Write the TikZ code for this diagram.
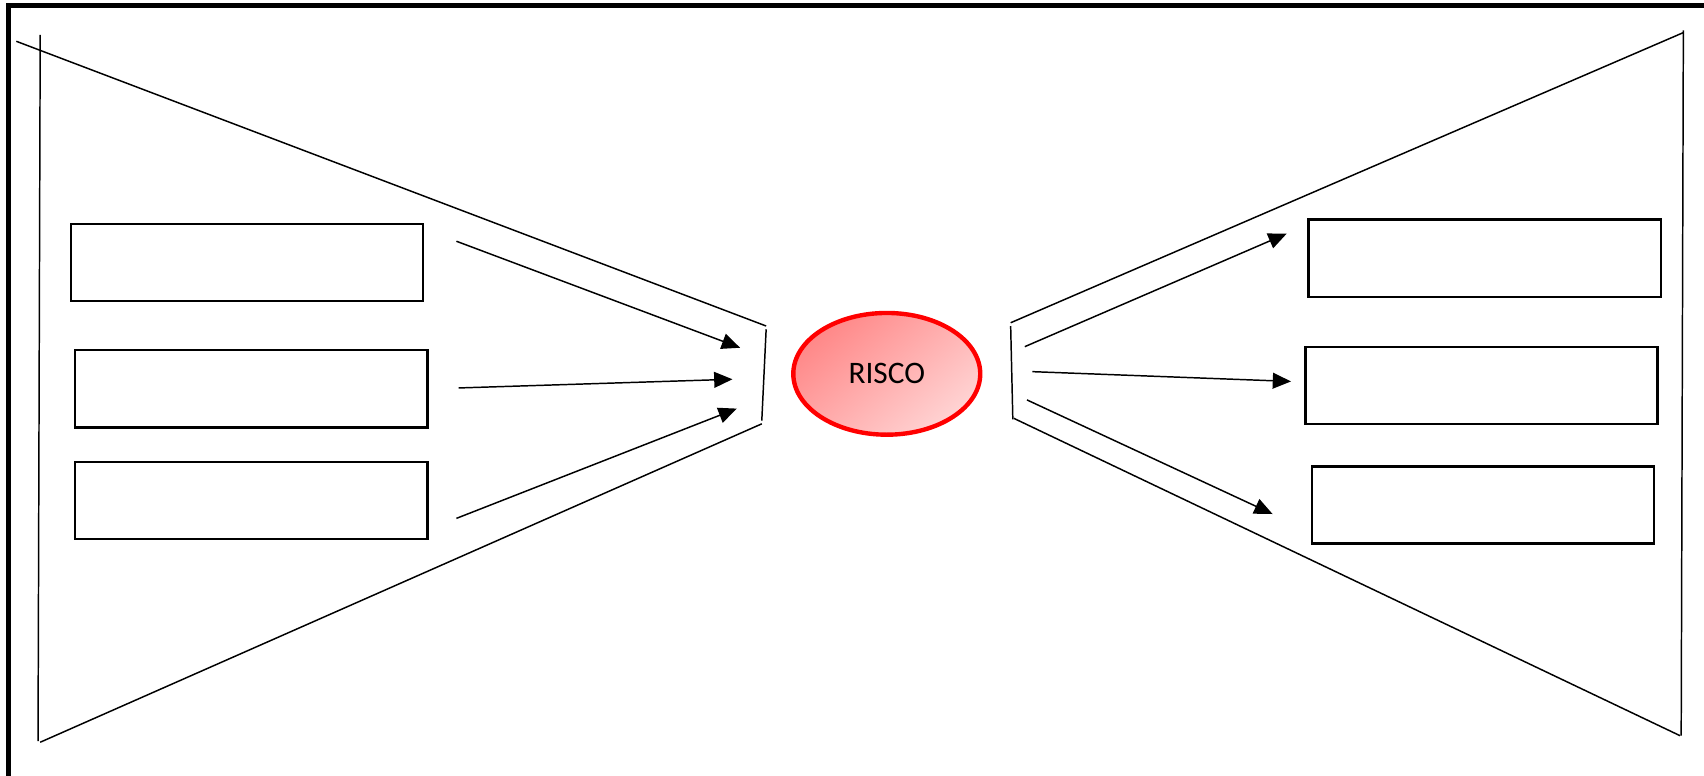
\documentclass[tikz,border=0pt]{standalone}
\usepackage{fontspec}
\setmainfont{Carlito}
\usetikzlibrary{arrows.meta,shapes.geometric}
\begin{document}
\begin{tikzpicture}[x=0.010867cm,y=-0.010867cm,
  thinline/.style={draw=black,line width=0.42pt},
  emptybox/.style={draw=black,line width=0.7pt,minimum width=3.521cm,minimum height=0.772cm,inner sep=0pt,anchor=north west},
  arr/.style={thinline,-{Triangle[length=5.2pt,width=4.5pt]}},
  riskshape/.style={ellipse,draw=red,line width=1.25pt,minimum width=1.869cm,minimum height=1.217cm,inner sep=0pt,
    top color=red!47,bottom color=red!17,shading angle=40,
    font=\fontsize{8.9pt}{10.5pt}\selectfont}]
\useasboundingbox (0,0) rectangle (1568,714);
\fill[white] (0,0) rectangle (1568,714);
% outer frame (right and bottom edges fall outside the page)
\draw[line width=1.4pt] (8.1,760) -- (8.1,4.9) -- (1600,4.9);
% left funnel
\coordinate (L1) at (37,32);
\coordinate (L2) at (35,682);
\coordinate (L3) at (15,38);
\coordinate (L4) at (705,300);
\coordinate (L5) at (705,303);
\coordinate (L6) at (701,387);
\coordinate (L7) at (701,390);
\coordinate (L8) at (37,683);
\draw[thinline] (L1) -- (L2);
\draw[thinline] (L3) -- (L4);
\draw[thinline] (L5) -- (L6);
\draw[thinline] (L7) -- (L8);
% right funnel
\coordinate (R1) at (1549,28);
\coordinate (R2) at (1547,677);
\coordinate (R3) at (930,297);
\coordinate (R4) at (1549,30);
\coordinate (R5) at (930,300);
\coordinate (R6) at (932,386);
\coordinate (R7) at (933,385);
\coordinate (R8) at (1546,677);
\draw[thinline] (R1) -- (R2);
\draw[thinline] (R3) -- (R4);
\draw[thinline] (R5) -- (R6);
\draw[thinline] (R7) -- (R8);
% boxes
\node[emptybox] (b1) at (64,205) {};
\node[emptybox] (b2) at (68,321) {};
\node[emptybox] (b3) at (68,424) {};
\node[emptybox] (b4) at (1203,201) {};
\node[emptybox] (b5) at (1200,318) {};
\node[emptybox,minimum width=3.423cm] (b6) at (1206,428) {};
% risk ellipse
\node[riskshape] (risk) at (816,344) {RISCO};
% arrow coordinates
\coordinate (a1s) at (420,222); \coordinate (a1e) at (681,320);
\coordinate (a2s) at (422,357); \coordinate (a2e) at (674,349);
\coordinate (a3s) at (420,477); \coordinate (a3e) at (678,376);
\coordinate (a4s) at (943,319); \coordinate (a4e) at (1184,215);
\coordinate (a5s) at (950,342); \coordinate (a5e) at (1188,351);
\coordinate (a6s) at (945,368); \coordinate (a6e) at (1171,473);
\draw[arr] (a1s) -- (a1e);
\draw[arr] (a2s) -- (a2e);
\draw[arr] (a3s) -- (a3e);
\draw[arr] (a4s) -- (a4e);
\draw[arr] (a5s) -- (a5e);
\draw[arr] (a6s) -- (a6e);
\end{tikzpicture}
\end{document}
